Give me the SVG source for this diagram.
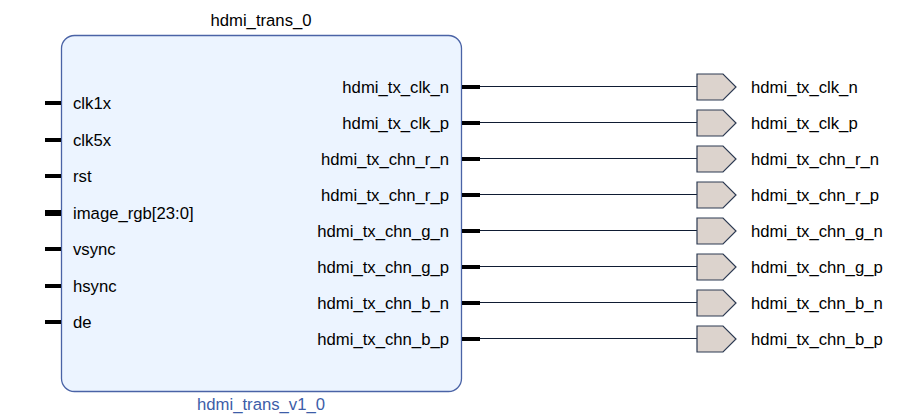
<svg xmlns="http://www.w3.org/2000/svg" width="899" height="420" viewBox="0 0 899 420">
<style>
text{font-family:"Liberation Sans",Arial,sans-serif;font-size:16.7px;fill:#000}
.r{text-anchor:end}
.c{text-anchor:middle}
.blk{fill:#ecf4ff;stroke:#4a63a6;stroke-width:1.3}
.pin{stroke:#000;stroke-width:4}
.bus{stroke:#000;stroke-width:6}
.wire{stroke:#0f1c33;stroke-width:1;fill:none}
.port{fill:#dcd3cd;stroke:#2c3a52;stroke-width:1.2}
.vlnv{fill:#3d5da8}
</style>
<defs>
<path id="pt" d="M0,-13 H26 L39,0 L26,13 H0 Z"/>
</defs>
<g id="connectors">
<line class="wire" x1="480" y1="86.5" x2="697" y2="86.5"/>
<line class="wire" x1="480" y1="122.5" x2="697" y2="122.5"/>
<line class="wire" x1="480" y1="158.5" x2="697" y2="158.5"/>
<line class="wire" x1="480" y1="194.5" x2="697" y2="194.5"/>
<line class="wire" x1="480" y1="230.5" x2="697" y2="230.5"/>
<line class="wire" x1="480" y1="266.5" x2="697" y2="266.5"/>
<line class="wire" x1="480" y1="302.5" x2="697" y2="302.5"/>
<line class="wire" x1="480" y1="338.5" x2="697" y2="338.5"/>
</g>
<g id="hdmi_trans_0">
<text class="c" x="261" y="26">hdmi_trans_0</text>
<rect class="blk" x="61.5" y="35.5" width="400" height="356" rx="13"/>
<text class="c vlnv" x="261" y="410">hdmi_trans_v1_0</text>
<line class="pin" x1="45" y1="103" x2="61" y2="103"/><text x="73" y="109">clk1x</text>
<line class="pin" x1="45" y1="140" x2="61" y2="140"/><text x="73" y="146">clk5x</text>
<line class="pin" x1="45" y1="176" x2="61" y2="176"/><text x="73" y="182">rst</text>
<line class="bus" x1="45" y1="213" x2="61" y2="213"/><text x="73" y="219">image_rgb[23:0]</text>
<line class="pin" x1="45" y1="249" x2="61" y2="249"/><text x="73" y="255">vsync</text>
<line class="pin" x1="45" y1="286" x2="61" y2="286"/><text x="73" y="292">hsync</text>
<line class="pin" x1="45" y1="322" x2="61" y2="322"/><text x="73" y="328">de</text>
<line class="pin" x1="462" y1="87" x2="480" y2="87"/><text class="r" x="449" y="93">hdmi_tx_clk_n</text>
<line class="pin" x1="462" y1="123" x2="480" y2="123"/><text class="r" x="449" y="129">hdmi_tx_clk_p</text>
<line class="pin" x1="462" y1="159" x2="480" y2="159"/><text class="r" x="449" y="165">hdmi_tx_chn_r_n</text>
<line class="pin" x1="462" y1="195" x2="480" y2="195"/><text class="r" x="449" y="201">hdmi_tx_chn_r_p</text>
<line class="pin" x1="462" y1="231" x2="480" y2="231"/><text class="r" x="449" y="237">hdmi_tx_chn_g_n</text>
<line class="pin" x1="462" y1="267" x2="480" y2="267"/><text class="r" x="449" y="273">hdmi_tx_chn_g_p</text>
<line class="pin" x1="462" y1="303" x2="480" y2="303"/><text class="r" x="449" y="309">hdmi_tx_chn_b_n</text>
<line class="pin" x1="462" y1="339" x2="480" y2="339"/><text class="r" x="449" y="345">hdmi_tx_chn_b_p</text>
</g>
<g id="port_hdmi_tx_clk_n"><use href="#pt" class="port" x="697" y="87"/><text x="751" y="93">hdmi_tx_clk_n</text></g>
<g id="port_hdmi_tx_clk_p"><use href="#pt" class="port" x="697" y="123"/><text x="751" y="129">hdmi_tx_clk_p</text></g>
<g id="port_hdmi_tx_chn_r_n"><use href="#pt" class="port" x="697" y="159"/><text x="751" y="165">hdmi_tx_chn_r_n</text></g>
<g id="port_hdmi_tx_chn_r_p"><use href="#pt" class="port" x="697" y="195"/><text x="751" y="201">hdmi_tx_chn_r_p</text></g>
<g id="port_hdmi_tx_chn_g_n"><use href="#pt" class="port" x="697" y="231"/><text x="751" y="237">hdmi_tx_chn_g_n</text></g>
<g id="port_hdmi_tx_chn_g_p"><use href="#pt" class="port" x="697" y="267"/><text x="751" y="273">hdmi_tx_chn_g_p</text></g>
<g id="port_hdmi_tx_chn_b_n"><use href="#pt" class="port" x="697" y="303"/><text x="751" y="309">hdmi_tx_chn_b_n</text></g>
<g id="port_hdmi_tx_chn_b_p"><use href="#pt" class="port" x="697" y="339"/><text x="751" y="345">hdmi_tx_chn_b_p</text></g>
</svg>
